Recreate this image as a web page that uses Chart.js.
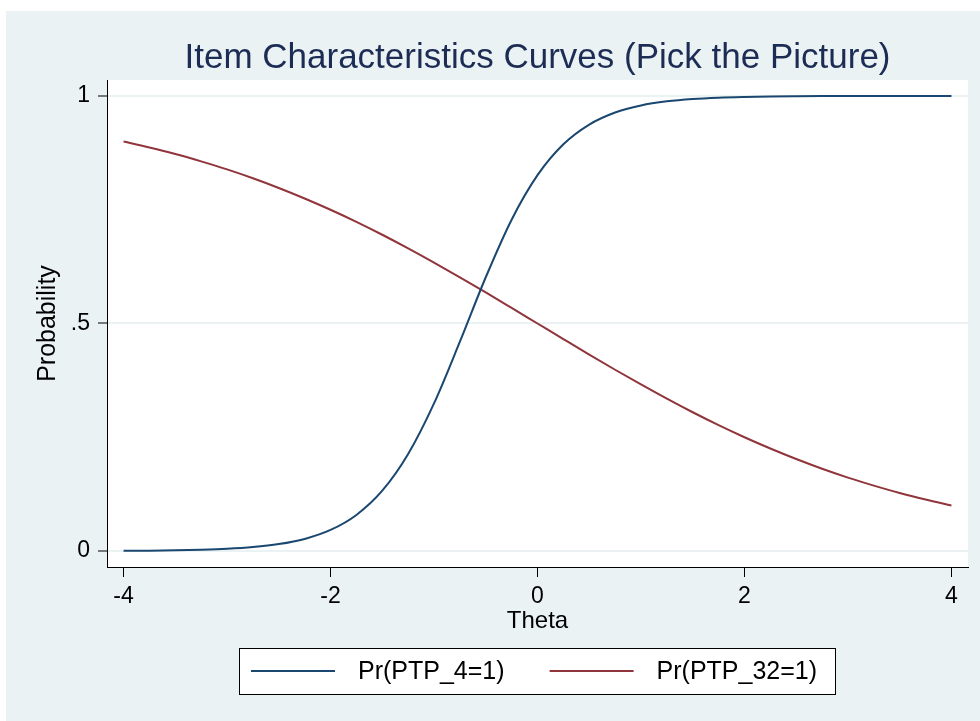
<!DOCTYPE html>
<html>
<head>
<meta charset="utf-8">
<script src="https://cdn.jsdelivr.net/npm/chart.js@4"></script>
<style>
  html, body { margin: 0; padding: 0; background: #fff; }
  #wrap { position: absolute; left: 6px; top: 11px; width: 974px; height: 710px; background: #eaf2f3; }
</style>
</head>
<body>
<div id="wrap"><canvas id="icc" width="974" height="710"></canvas></div>
<script>
// values
const theta = [-4, -3.75, -3.5, -3.25, -3, -2.75, -2.5, -2.25, -2, -1.75, -1.5, -1.25, -1, -0.75, -0.5, -0.25,
  0, 0.25, 0.5, 0.75, 1, 1.25, 1.5, 1.75, 2, 2.25, 2.5, 2.75, 3, 3.25, 3.5, 3.75, 4];
const ptp4 = [0.0005, 0.0009, 0.0016, 0.0028, 0.0049, 0.0087, 0.0153, 0.0267, 0.0464, 0.0794, 0.1326, 0.2133,
  0.3245, 0.460, 0.6016, 0.7281, 0.8259, 0.8938, 0.9371, 0.9636, 0.9791, 0.9881, 0.9933, 0.9962, 0.9978,
  0.9988, 0.9993, 0.9996, 0.9998, 0.9999, 0.9999, 1.0, 1.0];
const ptp32 = [0.9, 0.8868, 0.8724, 0.8562, 0.8386, 0.8191, 0.7978, 0.7747, 0.7499, 0.7233, 0.6950, 0.6651,
  0.6339, 0.6016, 0.5682, 0.5342, 0.5, 0.4658, 0.4318, 0.3984, 0.3661, 0.3349, 0.3050, 0.2767, 0.2501,
  0.2253, 0.2022, 0.1809, 0.1614, 0.1438, 0.1276, 0.1132, 0.1];
const xTicks = [-4, -2, 0, 2, 4];
const yTicks = [0, 0.5, 1];
const yTickLabels = ["0", ".5", "1"];

const FONT = "'Liberation Sans', Arial, sans-serif";
Chart.defaults.font.family = FONT;
Chart.defaults.color = "#000";

const toPoints = (ys) => theta.map((t, i) => ({ x: t, y: ys[i] }));

// white plot region
const plotBg = {
  id: "plotBg",
  beforeDraw(chart) {
    const a = chart.chartArea;
    chart.ctx.save();
    chart.ctx.fillStyle = "#fff";
    chart.ctx.fillRect(a.left, a.top, a.right - a.left, a.bottom - a.top);
    chart.ctx.restore();
  },
};

// stata-like legend with a box round it
const boxedLegend = {
  id: "boxedLegend",
  afterDraw(chart) {
    const ctx = chart.ctx;
    const a = chart.chartArea;
    ctx.save();
    ctx.font = "25px " + FONT;
    const items = chart.data.datasets.map((ds) => ({
      label: ds.label,
      color: ds.borderColor,
      w: ctx.measureText(ds.label).width,
    }));
    const lineLen = 84, gapText = 23, gapItem = 45, padL = 12, padR = 18;
    let total = padL + padR;
    items.forEach((it, i) => { total += lineLen + gapText + it.w + (i ? gapItem : 0); });
    const boxH = 46, top = 637;
    const left = Math.round((a.left + a.right) / 2 - total / 2);
    ctx.fillStyle = "#fff";
    ctx.fillRect(left, top, total, boxH);
    ctx.strokeStyle = "#000";
    ctx.lineWidth = 1;
    ctx.strokeRect(left + 0.5, top + 0.5, Math.round(total), boxH);
    let x = left + padL;
    const cy = top + boxH / 2;
    items.forEach((it, i) => {
      if (i) x += gapItem;
      ctx.strokeStyle = it.color;
      ctx.lineWidth = 2;
      ctx.beginPath();
      ctx.moveTo(x, cy);
      ctx.lineTo(x + lineLen, cy);
      ctx.stroke();
      x += lineLen + gapText;
      ctx.fillStyle = "#000";
      ctx.textBaseline = "middle";
      ctx.fillText(it.label, x, cy + 1);
      x += it.w;
    });
    ctx.restore();
  },
};

new Chart(document.getElementById("icc"), {
  type: "line",
  data: {
    datasets: [
      {
        label: "Pr(PTP_4=1)",
        data: toPoints(ptp4),
        borderColor: "#1a476f",
        borderWidth: 2,
        pointRadius: 0,
        cubicInterpolationMode: "monotone",
      },
      {
        label: "Pr(PTP_32=1)",
        data: toPoints(ptp32),
        borderColor: "#90353b",
        borderWidth: 2,
        pointRadius: 0,
        cubicInterpolationMode: "monotone",
      },
    ],
  },
  options: {
    responsive: false,
    animation: false,
    layout: { padding: { left: 0, right: 12, top: 0, bottom: 84 } },
    plugins: {
      legend: { display: false },
      tooltip: { enabled: false },
      title: {
        display: true,
        fullSize: false,
        text: "Item Characteristics Curves (Pick the Picture)",
        color: "#1d2c55",
        font: { size: 35, weight: "normal" },
        padding: { top: 26, bottom: 1 },
      },
    },
    scales: {
      x: {
        type: "linear",
        min: -4.16,
        max: 4.16,
        afterBuildTicks: (s) => { s.ticks = xTicks.map((v) => ({ value: v })); },
        afterFit: (s) => { s.height = 70; },
        ticks: { font: { size: 23 }, padding: 6, maxRotation: 0 },
        grid: { drawOnChartArea: false, color: "#000", tickColor: "#000", tickLength: 10, tickWidth: 1 },
        border: { color: "#000", width: 1 },
        title: { display: true, text: "Theta", font: { size: 24 }, padding: { top: 0, bottom: 1 } },
      },
      y: {
        min: -0.035,
        max: 1.035,
        afterBuildTicks: (s) => { s.ticks = yTicks.map((v) => ({ value: v })); },
        afterFit: (s) => { s.width = 101; },
        ticks: {
          font: { size: 23 },
          padding: 8,
          callback: (v) => yTickLabels[yTicks.indexOf(v)],
        },
        grid: { color: "#eaf2f3", lineWidth: 2, tickColor: "#000", tickLength: 9, tickWidth: 1 },
        border: { color: "#000", width: 1 },
        title: { display: true, text: "Probability", font: { size: 25 }, padding: { top: 27, bottom: 0 } },
      },
    },
  },
  plugins: [plotBg, boxedLegend],
});
</script>
</body>
</html>
